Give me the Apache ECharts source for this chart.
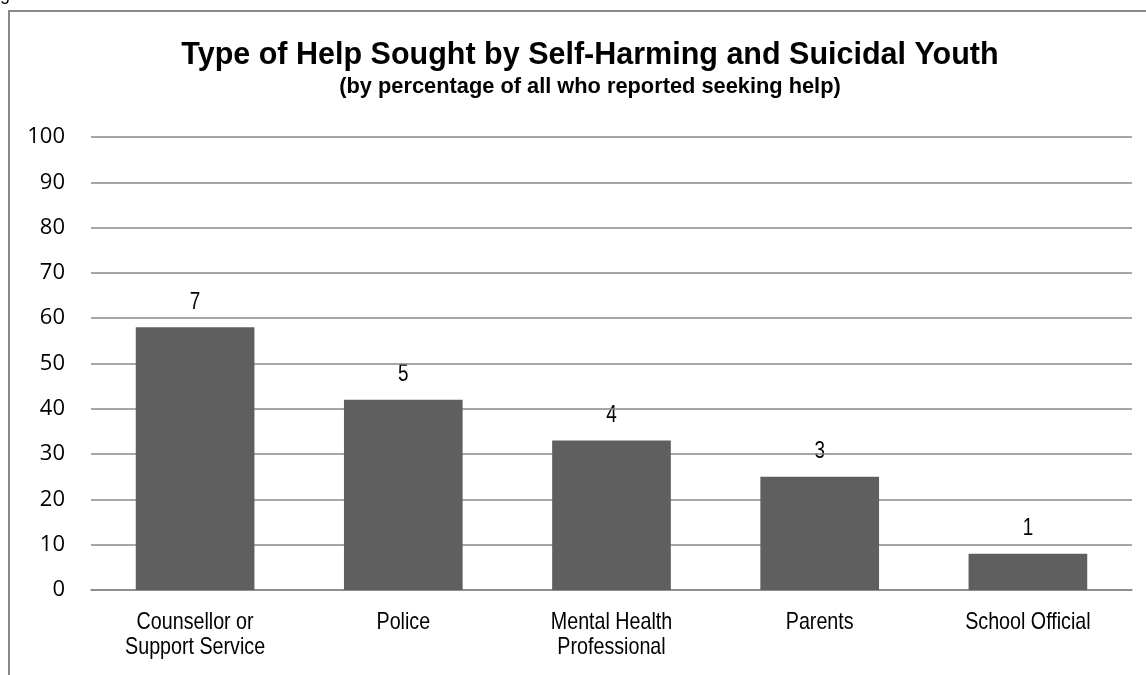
<!DOCTYPE html>
<html><head><meta charset="utf-8">
<script src="https://cdn.jsdelivr.net/npm/echarts@6/dist/echarts.min.js"></script>
<style>html,body{margin:0;padding:0;background:#fff}#c{width:1146px;height:675px}</style>
</head><body><div id="c"></div>
<script>
const categories = ['Counsellor or\nSupport Service', 'Police', 'Mental Health\nProfessional', 'Parents', 'School Official'];
const percentages = [58, 42, 33, 25, 8];
const counts = [7, 5, 4, 3, 1];
const yTicks = [0, 10, 20, 30, 40, 50, 60, 70, 80, 90, 100];
const FONT = '"Liberation Sans", Arial, sans-serif';
const NARROW = 0.82;
const chart = echarts.init(document.getElementById('c'));
const baseGraphics = [
  { type: 'rect', shape: { x: 9, y: 11, width: 1160, height: 700 }, style: { fill: 'none', stroke: '#888', lineWidth: 2 }, silent: true },
  { type: 'text', x: 0, y: -14, style: { text: 'gure 3', font: '18px ' + FONT, fill: '#000' } }
];
chart.setOption({
  animation: false,
  title: {
    text: 'Type of Help Sought by Self-Harming and Suicidal Youth',
    subtext: '(by percentage of all who reported seeking help)',
    left: 585, textAlign: 'center', top: 35, itemGap: 5,
    textStyle: { fontFamily: FONT, fontSize: 30.5, fontWeight: 'bold', color: '#000' },
    subtextStyle: { fontFamily: FONT, fontSize: 21.8, fontWeight: 'bold', color: '#000' }
  },
  graphic: baseGraphics,
  grid: { left: 91, right: 14, top: 137, bottom: 85, containLabel: false },
  xAxis: {
    type: 'category', data: categories,
    axisTick: { show: false },
    axisLine: { lineStyle: { color: '#888', width: 1.5 } },
    axisLabel: { show: false }
  },
  yAxis: {
    type: 'value', min: 0, max: 100, interval: 10,
    axisLine: { show: false }, axisTick: { show: false },
    axisLabel: { fontFamily: '"Open Sans", sans-serif', fontSize: 22, color: '#000', margin: 26,
      formatter: v => yTicks.includes(v) ? String(v) : '' },
    splitLine: { lineStyle: { color: '#888', width: 1.5 } }
  },
  series: [{
    type: 'bar', data: percentages, barWidth: '57%',
    itemStyle: { color: '#5f5f5f' },
    label: { show: false }
  }]
});
// Narrow-font labels (Arial Narrow look) placed through the chart's own scales
const extra = [];
categories.forEach((cat, i) => {
  const base = chart.convertToPixel({ gridIndex: 0 }, [i, 0]);
  const top = chart.convertToPixel({ gridIndex: 0 }, [i, percentages[i]]);
  cat.split('\n').forEach((line, k) => {
    extra.push({ type: 'text', x: base[0], y: base[1] + 32 + k * 25, scaleX: NARROW, silent: true,
      style: { text: line, font: '24px ' + FONT, fill: '#000', align: 'center', verticalAlign: 'middle',
        textAlign: 'center', textVerticalAlign: 'middle' } });
  });
  extra.push({ type: 'text', x: top[0], y: top[1] - 25, scaleX: NARROW, silent: true,
    style: { text: String(counts[i]), font: '23px ' + FONT, fill: '#000', align: 'center', verticalAlign: 'middle',
      textAlign: 'center', textVerticalAlign: 'middle' } });
});
chart.setOption({ graphic: baseGraphics.concat(extra) });
</script></body></html>
